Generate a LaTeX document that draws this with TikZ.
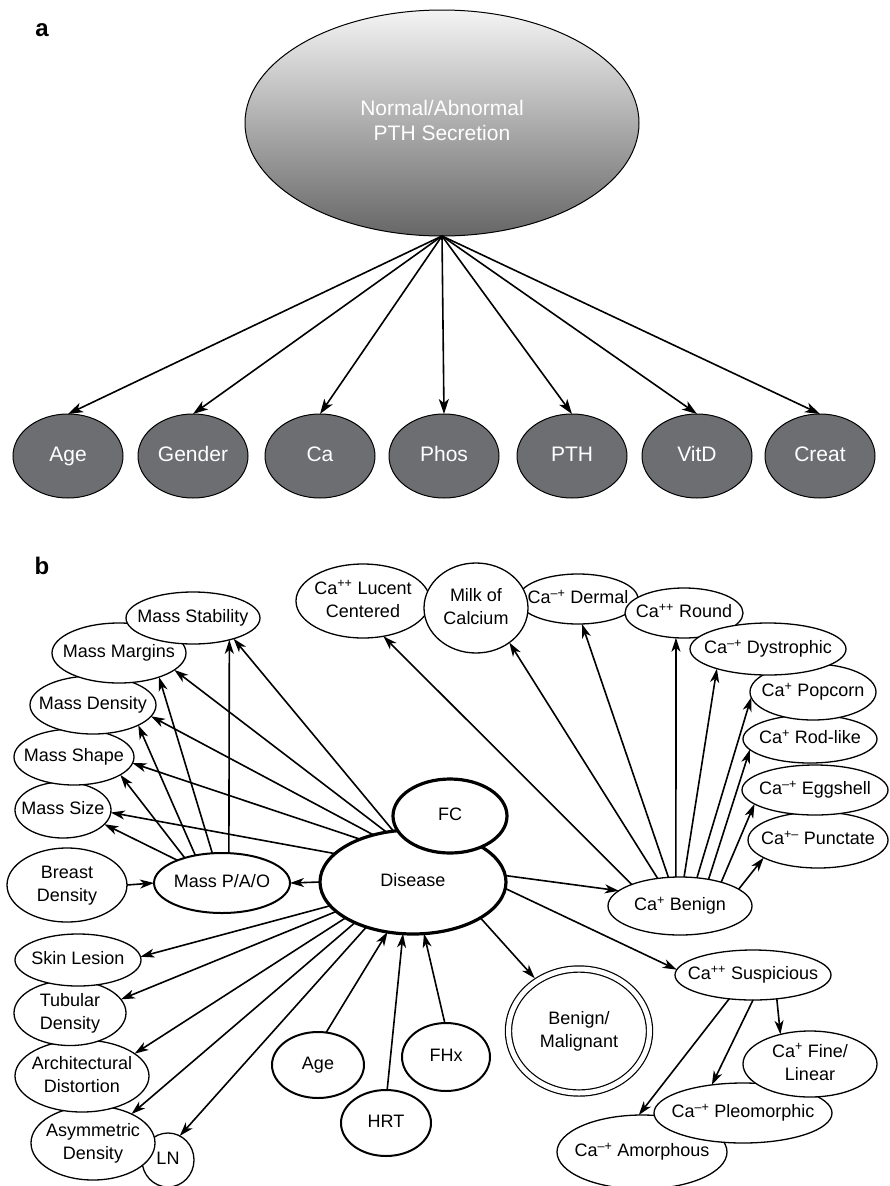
\documentclass[tikz,border=0pt]{standalone}
\usepackage{fontspec}
\setmainfont{Liberation Sans}
\usetikzlibrary{shapes.geometric,arrows.meta}
\newcommand{\zl}[1]{\makebox[0pt]{\begin{tabular}{@{}c@{}}#1\end{tabular}}}
\newcommand{\spx}[1]{\textsuperscript{#1}}
\definecolor{darknode}{HTML}{6D6E71}
\definecolor{gtop}{HTML}{F4F4F4}
\definecolor{gbot}{HTML}{666666}
\begin{document}
\begin{tikzpicture}[x=1pt,y=-1pt,
  apart/.style={ellipse, draw=black, line width=1pt, fill=darknode, text=white, inner sep=0pt, outer sep=0pt,
    font=\fontsize{21}{25}\selectfont, minimum width=110pt, minimum height=84pt},
  atop/.style={ellipse, draw=black, line width=1pt, top color=gtop, bottom color=gbot, text=white, inner sep=0pt, outer sep=0pt,
    font=\fontsize{21}{25}\selectfont},
  bn/.style={ellipse, draw=black, line width=1.3pt, fill=white, inner sep=0pt, outer sep=0pt,
    font=\fontsize{18}{23}\selectfont},
  bthick/.style={bn, line width=3.2pt},
  bmed/.style={bn, line width=2pt},
  sz/.style n args={2}{minimum width=#1pt, minimum height=#2pt},
  ca/.style={line width=1.6pt, -{Stealth[length=15pt,width=10pt,inset=4pt]}},
  cb/.style={line width=1.6pt, -{Stealth[length=14pt,width=9pt,inset=4pt]}},
  panel/.style={font=\fontsize{24}{26}\selectfont\bfseries}
]
\useasboundingbox (0,0) rectangle (889,1186);
\clip (0,0) rectangle (889,1186);
\fill[white] (0,0) rectangle (889,1186);

% ---------- panel a ----------
\node[panel] (la) at (42,30) {a};
\node[atop, sz={394}{226}] (top) at (442,123) {\zl{Normal/Abnormal\\PTH Secretion}};
\node[apart] (a1) at (68,456) {\zl{Age}};
\node[apart] (a2) at (193,456) {\zl{Gender}};
\node[apart] (a3) at (320,456) {\zl{Ca}};
\node[apart] (a4) at (444,456) {\zl{Phos}};
\node[apart] (a5) at (572,456) {\zl{PTH}};
\node[apart] (a6) at (697,456) {\zl{VitD}};
\node[apart] (a7) at (820,456) {\zl{Creat}};
\foreach \i in {1,...,7} \draw[ca] (top.south) -- (a\i.north);

% ---------- panel b ----------
\node[panel] (lb) at (42,566) {b};

% mass stack
\node[bn, sz={96}{56}] (msize) at (63,810) {\zl{Mass Size}};
\node[bn, sz={120}{56}] (mshape) at (74,757) {\zl{Mass Shape}};
\node[bn, sz={126}{58}] (mdens) at (93,705) {\zl{Mass Density}};
\node[bn, sz={134}{60}] (mmarg) at (119,653) {\zl{Mass Margins}};
\node[bn, sz={134}{52}] (mstab) at (193,618) {\zl{Mass Stability}};
\node[bn, sz={120}{74}] (breast) at (67,885) {\zl{Breast\\Density}};
\node[bmed, sz={136}{60}] (pao) at (222,883) {\zl{Mass P/A/O}};

% lower left
\node[bn, sz={52}{54}] (ln) at (168,1160) {\zl{LN}};
\node[bn, sz={124}{74}] (asym) at (93,1143) {\zl{Asymmetric\\Density}};
\node[bn, sz={134}{72}] (arch) at (82,1076) {\zl{Architectural\\Distortion}};
\node[bn, sz={112}{64}] (tub) at (70,1013) {\zl{Tubular\\Density}};
\node[bn, sz={126}{52}] (skin) at (78,960) {\zl{Skin Lesion}};

% centre
\node[bthick, sz={186}{104}] (disease) at (413,882) {\zl{Disease}};
\node[bthick, sz={114}{74}] (fc) at (450,816) {\zl{FC}};
\node[bmed, sz={92}{66}] (age) at (318,1065) {\zl{Age}};
\node[bmed, sz={90}{66}] (hrt) at (386,1123) {\zl{HRT}};
\node[bmed, sz={88}{68}] (fhx) at (446,1057) {\zl{FHx}};

% top right calcification nodes
\node[bn, sz={134}{74}] (lucent) at (363,601) {\zl{Ca\spx{++} Lucent\\Centered}};
\node[bn, sz={120}{50}] (dermal) at (578,599) {};
\node[bn, sz={104}{90}] (milk) at (476,608) {\zl{Milk of\\Calcium}};
\node[bn, sz={140}{56}] (punct) at (818,840) {\zl{Ca\spx{+--} Punctate}};
\node[bn, sz={146}{50}] (egg) at (815,790) {\zl{Ca\spx{--+} Eggshell}};
\node[bn, sz={134}{48}] (rod) at (810,739) {\zl{Ca\spx{+} Rod-like}};
\node[bn, sz={126}{56}] (popcorn) at (813,692) {\zl{Ca\spx{+} Popcorn}};
\node[bn, sz={118}{50}] (round) at (684,613) {\zl{Ca\spx{++} Round}};
\node[bn, sz={156}{52}] (dystro) at (768,649) {\zl{Ca\spx{--+} Dystrophic}};
\node[font=\fontsize{18}{23}\selectfont, inner sep=0pt] (dermaltext) at (dermal.center) {\zl{Ca\spx{--+} Dermal}};

% lower right
\node[bn, sz={144}{58}] (benign) at (680,906) {\zl{Ca\spx{+} Benign}};
\node[bn, sz={156}{50}] (susp) at (753,975) {\zl{Ca\spx{++} Suspicious}};
\node[bn, double, double distance=5pt, line width=1.2pt, outer sep=3.7pt, sz={141}{124}] (bm) at (579,1031) {\zl{Benign/\\Malignant}};
\node[bn, sz={170}{74}] (amor) at (642,1152) {\zl{Ca\spx{--+} Amorphous}};
\node[bn, sz={178}{60}] (pleo) at (743,1113) {\zl{Ca\spx{--+} Pleomorphic}};
\node[bn, sz={134}{66}] (fine) at (810,1064) {\zl{Ca\spx{+} Fine/\\Linear}};

% connectors: Disease -> mass descriptors
\draw[cb] (disease.160) -- (msize.-3);
\draw[cb] (disease.141) -- (mshape.-6);
\draw[cb] (disease.130) -- (mdens.-11);
\draw[cb] (disease.118) -- (mmarg.-17);
\draw[cb] (disease.111) -- (mstab.-27);
% Mass P/A/O -> mass descriptors
\draw[cb] (pao.153) -- (msize.-19);
\draw[cb] (pao.146) -- (mshape.-21);
\draw[cb] (pao.134) -- (mdens.-24);
\draw[cb] (pao.108) -- (mmarg.-31);
\draw[cb] (pao.77) -- (mstab.-31);
\draw[cb] (disease.west) -- (pao.east);
\draw[cb] (breast.east) -- (pao.west);
% Disease -> lower left
\draw[cb] (disease.196) -- (skin.3);
\draw[cb] (disease.201) -- (tub.15);
\draw[cb] (disease.208) -- (arch.23);
\draw[cb] (disease.215) -- (asym.37);
\draw[cb] (disease.224) -- (ln.64);
% risk factors -> Disease
\draw[cb] (age.76) -- (disease.243);
\draw[cb] (hrt.88) -- (disease.259);
\draw[cb] (fhx.92) -- (disease.282);
% Disease -> right
\draw[cb] (disease.4) -- (benign.166);
\draw[cb] (disease.-4) -- (susp.176);
\draw[cb] (disease.-28) -- (bm.130);
% Ca+ Benign -> descriptors
\draw[cb] (benign.156) -- (lucent.-60);
\draw[cb] (benign.129) -- (milk.-46);
\draw[cb] (benign.112) -- (dermal.-81);
\draw[cb] (benign.98) -- (round.-108);
\draw[cb] (benign.82) -- (dystro.-159);
\draw[cb] (benign.59) -- (popcorn.185);
\draw[cb] (benign.43) -- (rod.190);
\draw[cb] (benign.30) -- (egg.193);
\draw[cb] (benign.16) -- (punct.198);
% Ca++ Suspicious -> descriptors
\draw[cb] (susp.-45) -- (fine.135);
\draw[cb] (susp.-90) -- (pleo.138);
\draw[cb] (susp.-135) -- (amor.95);
\end{tikzpicture}
\end{document}
